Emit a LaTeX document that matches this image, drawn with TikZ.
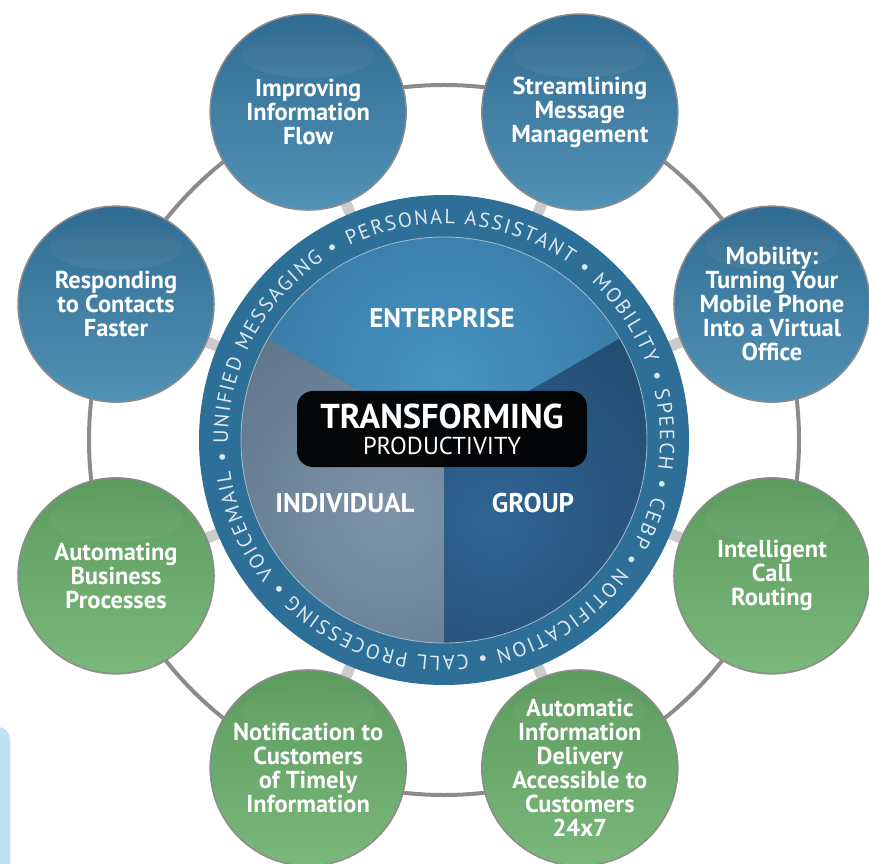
\documentclass[tikz,border=0pt]{standalone}
\usepackage{fontspec}
\setmainfont{PT Sans}
\usetikzlibrary{decorations.text,backgrounds}
\definecolor{ringblue}{HTML}{2E6F97}
\definecolor{ringtext}{HTML}{DCE8F1}
\definecolor{orbitgray}{HTML}{8C8C8C}
\definecolor{spokegray}{HTML}{CBCBCB}
\definecolor{tabblue}{HTML}{BDE2F7}
\definecolor{bluetop}{HTML}{316C93}
\definecolor{bluebot}{HTML}{5192B5}
\definecolor{blueshinetop}{HTML}{34688D}
\definecolor{blueshinebot}{HTML}{6AAFCB}
\definecolor{greentop}{HTML}{5C9B5E}
\definecolor{greenbot}{HTML}{7AB77B}
\definecolor{greenshinetop}{HTML}{5E9A60}
\definecolor{greenshinebot}{HTML}{8DC68E}
\definecolor{entin}{HTML}{4794C4}
\definecolor{entout}{HTML}{2B648B}
\definecolor{indin}{HTML}{7D94AA}
\definecolor{indout}{HTML}{4B5F72}
\definecolor{grpin}{HTML}{2F6494}
\definecolor{grpout}{HTML}{1B3A59}
\tikzset{
  bubble/.style={circle, draw=orbitgray, line width=1.5pt, minimum size=196pt, inner sep=0pt},
  bubtext/.style={text=white, align=center, font=\fontsize{24.5}{24}\selectfont\bfseries},
  bluebub/.style={bubble, top color=bluetop, bottom color=bluebot,
    path picture={\shade[top color=blueshinetop, bottom color=blueshinebot]
      ([yshift=57pt]path picture bounding box.center) ellipse[x radius=67pt, y radius=23pt];}},
  greenbub/.style={bubble, top color=greentop, bottom color=greenbot,
    path picture={\shade[top color=greenshinetop, bottom color=greenshinebot]
      ([yshift=57pt]path picture bounding box.center) ellipse[x radius=67pt, y radius=23pt];}},
  sectorlabel/.style={text=white, font=\fontsize{27}{27}\selectfont\bfseries},
  orbit/.style={draw=orbitgray, line width=4pt},
  spoke/.style={draw=spokegray, line width=11pt}
}
\begin{document}
\begin{tikzpicture}[x=1pt,y=1pt]
  \useasboundingbox (0,0) rectangle (869,863);
  \clip (0,0) rectangle (869,863);
  \fill[tabblue, rounded corners=12pt] (-30,-30) rectangle (10,136);
  \coordinate (hub) at (444,423);
  \fill[ringblue] (hub) circle[radius=245pt];
  \foreach \from/\to/\inner/\outer/\glow in {30/150/entin/entout/{(444,480)},150/270/indin/indout/{(392,350)},270/390/grpin/grpout/{(495,345)}}{
    \begin{scope}
      \clip (hub) -- ([shift={(\from:203pt)}]hub) arc[start angle=\from, end angle=\to, radius=203pt] -- cycle;
      \shade[inner color=\inner, outer color=\outer] \glow circle[radius=380pt];
    \end{scope}
  }
  \draw[white!55!ringblue, line width=0.8pt] (hub) circle[radius=203pt];
  \path[decorate, decoration={text along path, text align=fit to path, text color=ringtext,
    text={|\fontsize{20.5}{20}\selectfont|PERSONAL ASSISTANT • MOBILITY • SPEECH • CEBP • NOTIFICATION • CALL PROCESSING • VOICEMAIL • UNIFIED MESSAGING •}}]
    ([shift={(116:216pt)}]hub) arc[start angle=116, end angle=-241, radius=216pt];
  \node[sectorlabel] (enterprise) at (442,545) {ENTERPRISE};
  \node[sectorlabel] (individual) at (345,360) {INDIVIDUAL};
  \node[sectorlabel] (group) at (533,360) {GROUP};
  \node[fill=black, fill opacity=0.95, text opacity=1, rounded corners=16pt, minimum width=290pt, minimum height=76pt,
    text=white, align=center, font=\fontsize{24.5}{26}\selectfont] (core) at (442,434)
    {{\fontsize{34.5}{26}\selectfont\bfseries TRANSFORMING}\\PRODUCTIVITY};
  \foreach \ang/\name/\col/\txt in {
      112.5/flow/bluebub/{Improving\\Information\\Flow},
      67.5/msgs/bluebub/{Streamlining\\Message\\Management},
      22.5/mobile/bluebub/{Mobility:\\Turning Your\\Mobile Phone\\Into a Virtual\\Office},
      -22.5/routing/greenbub/{Intelligent\\Call\\Routing},
      -67.5/delivery/greenbub/{Automatic\\Information\\Delivery\\Accessible to\\Customers\\24x7},
      -112.5/notify/greenbub/{Notification to\\Customers\\of Timely\\Information},
      -157.5/process/greenbub/{Automating\\Business\\Processes},
      157.5/respond/bluebub/{Responding\\to Contacts\\Faster}}
    \node[\col, label={[bubtext]center:\txt}] (\name) at ([shift={(\ang:355pt)}]hub) {};
  \begin{scope}[on background layer]
    \draw[orbit] (hub) circle[radius=355pt];
    \foreach \name in {flow,msgs,mobile,routing,delivery,notify,process,respond}
      \draw[spoke] (hub) -- (\name);
  \end{scope}
\end{tikzpicture}
\end{document}
